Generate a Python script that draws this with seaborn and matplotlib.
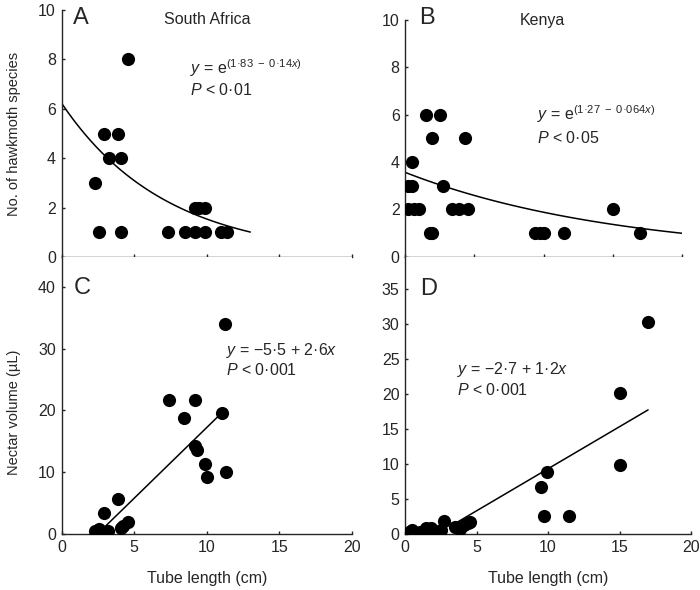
import matplotlib
matplotlib.use('Agg')
import matplotlib.pyplot as plt
import seaborn as sns
import numpy as np
import pandas as pd

sns.set_style('ticks')
plt.rcParams['font.family'] = ['Liberation Sans', 'DejaVu Sans']
plt.rcParams['mathtext.fontset'] = 'custom'
plt.rcParams['mathtext.rm'] = 'Liberation Sans'
plt.rcParams['mathtext.it'] = 'Liberation Sans:italic'
plt.rcParams['axes.linewidth'] = 1.0
plt.rcParams['xtick.direction'] = 'in'
plt.rcParams['ytick.direction'] = 'in'
plt.rcParams['xtick.major.size'] = 2.5
plt.rcParams['ytick.major.size'] = 2.5
plt.rcParams['xtick.major.width'] = 1.0
plt.rcParams['ytick.major.width'] = 1.0

# A: South Africa, hawkmoth species vs tube length
sa_tube = [4.6, 2.9, 3.9, 3.3, 4.1, 2.3, 2.6, 4.1, 7.3, 8.5, 9.2, 9.9, 11.0, 11.4, 9.2, 9.5, 9.9]
sa_species = [8, 5, 5, 4, 4, 3, 1, 1, 1, 1, 1, 1, 1, 1, 2, 2, 2]

# B: Kenya, hawkmoth species vs tube length
ke_tube = [1.5, 2.5, 1.9, 4.3, 0.5, 0.2, 0.5, 2.75, 0.2, 0.6, 1.0, 3.4, 3.9, 4.5,
           1.75, 1.9, 9.4, 9.75, 10.0, 11.5, 17.0, 15.0]
ke_species = [6, 6, 5, 5, 4, 3, 3, 3, 2, 2, 2, 2, 2, 2, 1, 1, 1, 1, 1, 1, 1, 2]

# C: South Africa, nectar volume vs tube length
sa_tube_n = [11.25, 7.4, 9.2, 8.45, 11.05, 9.2, 9.35, 9.9, 10.0, 11.35, 3.9, 2.9,
             2.3, 2.6, 3.2, 4.2, 4.6, 4.1]
sa_nectar = [34.0, 21.7, 21.7, 18.8, 19.5, 14.2, 13.6, 11.4, 9.2, 10.0, 5.6, 3.4,
             0.5, 0.8, 0.5, 1.35, 1.9, 0.9]
sa_fit_x = [3.0, 11.3]
sa_fit_y = [1.2, 20.2]

# D: Kenya, nectar volume vs tube length
ke_tube_n = [17.0, 15.0, 15.0, 9.9, 9.5, 9.7, 11.5, 2.75, 4.4, 4.55, 4.1, 3.5, 3.85,
             2.5, 1.45, 1.85, 1.85, 0.25, 0.6, 0.95, 1.05, 0.5]
ke_nectar = [30.3, 20.1, 9.9, 8.9, 6.7, 2.6, 2.6, 1.85, 1.5, 1.7, 1.3, 1.0, 0.7,
             0.6, 0.8, 0.8, 0.3, 0.3, 0.2, 0.1, 0.3, 0.5]

W, H = 700, 590


def box(left, right, top, bottom):
    return [left / W, 1 - bottom / H, (right - left) / W, (bottom - top) / H]


fig = plt.figure(figsize=(7, 5.9), dpi=100)
axA = fig.add_axes(box(61.5, 352, 10, 257))
axB = fig.add_axes(box(405.3, 682, 20, 256.7))
axC = fig.add_axes(box(61.5, 352, 257, 534))
axD = fig.add_axes(box(405, 691, 257, 534))

dot = dict(color='black', edgecolor='black', s=90, linewidth=0, zorder=3)
line = dict(color='black', linewidth=1.1)

# A
sns.scatterplot(x=sa_tube, y=sa_species, ax=axA, **dot)
xa = np.linspace(0, 13, 100)
sns.lineplot(x=xa, y=np.exp(1.83 - 0.14 * xa), ax=axA, **line)
axA.set_ylim(0, 10)
axA.set_yticks(range(0, 11, 2))

# B
sns.scatterplot(x=ke_tube, y=ke_species, ax=axB, **dot)
xb = np.linspace(0, 20, 100)
sns.lineplot(x=xb, y=np.exp(1.27 - 0.064 * xb), ax=axB, **line)
axB.set_ylim(0, 10)
axB.set_yticks(range(0, 11, 2))

# C
sns.scatterplot(x=sa_tube_n, y=sa_nectar, ax=axC, **dot)
sns.lineplot(x=sa_fit_x, y=sa_fit_y, ax=axC, **line)
axC.set_ylim(0, 44.8)
axC.set_yticks(range(0, 41, 10))

# D
sns.scatterplot(x=ke_tube_n, y=ke_nectar, ax=axD, **dot)
xd = np.linspace(3.4, 17, 50)
sns.lineplot(x=xd, y=-2.7 + 1.2 * xd, ax=axD, **line)
axD.set_ylim(0, 39.5)
axD.set_yticks(range(0, 36, 5))

fs = 11.5
for ax in (axA, axB, axC, axD):
    ax.set_xlim(0, 20)
    ax.set_xticks(range(0, 21, 5))
    ax.tick_params(labelsize=fs, pad=4)
    sns.despine(ax=ax)
    ax.set_xlabel('')
    ax.set_ylabel('')
for ax in (axA, axB):
    ax.tick_params(axis='x', labelbottom=False)
for ax in (axC, axD):
    ax.set_xlabel('Tube length (cm)', fontsize=fs)
    ax.xaxis.set_label_coords(0.5, -0.135)

axA.set_ylabel('No. of hawkmoth species', fontsize=10.5)
axA.yaxis.set_label_coords(-0.14, 0.5)
axC.set_ylabel('Nectar volume (µL)', fontsize=10.5)
axC.yaxis.set_label_coords(-0.14, 0.44)

# panel letters, titles and equations
lf = 17
axA.text(1.3, 9.66, 'A', fontsize=lf, ha='center', va='center')
axA.text(10.0, 9.62, 'South Africa', fontsize=fs, ha='center', va='center')
axA.text(8.85, 7.65, r'$y$ = e$^{(1·83\ −\ 0·14x)}$', fontsize=fs, va='center')
axA.text(8.85, 6.76, r'$P$ < 0·01', fontsize=fs, va='center')

axB.text(1.55, 10.1, 'B', fontsize=lf, ha='center', va='center')
axB.text(9.9, 10.0, 'Kenya', fontsize=fs, ha='center', va='center')
axB.text(9.5, 6.03, r'$y$ = e$^{(1·27\ −\ 0·064x)}$', fontsize=fs, va='center')
axB.text(9.5, 5.03, r'$P$ < 0·05', fontsize=fs, va='center')

axC.text(1.4, 39.8, 'C', fontsize=lf, ha='center', va='center')
axC.text(11.35, 29.6, r'$y$ = −5·5 + 2·6$x$', fontsize=fs, va='center')
axC.text(11.35, 26.5, r'$P$ < 0·001', fontsize=fs, va='center')

axD.text(1.63, 35.0, 'D', fontsize=lf, ha='center', va='center')
axD.text(3.66, 23.5, r'$y$ = −2·7 + 1·2$x$', fontsize=fs, va='center')
axD.text(3.66, 20.5, r'$P$ < 0·001', fontsize=fs, va='center')

fig.savefig('out.png', dpi=100)
